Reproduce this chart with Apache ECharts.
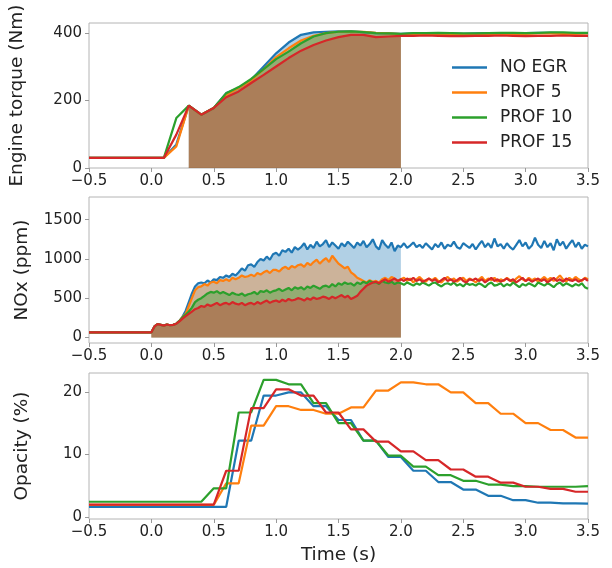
<!DOCTYPE html>
<html><head><meta charset="utf-8">
<script src="https://cdn.jsdelivr.net/npm/echarts@6/dist/echarts.min.js"></script>
<style>html,body{margin:0;padding:0;background:#fff}#c{width:612px;height:568px}</style>
</head><body><div id="c"></div>
<script>
const seriesNames = ['NO EGR', 'PROF 5', 'PROF 10', 'PROF 15'];
const seriesColors = ['#1f77b4', '#ff7f0e', '#2ca02c', '#d62728'];

// tick values
const xTickValues = [-0.5, 0.0, 0.5, 1.0, 1.5, 2.0, 2.5, 3.0, 3.5];
const torqueTickValues = [0, 200, 400];
const noxTickValues = [0, 500, 1000, 1500];
const opacityTickValues = [0, 10, 20];

// coarse time grid (torque and opacity), seconds
const coarseTime = [-0.5,-0.4,-0.3,-0.2,-0.1,0.0,0.1,0.2,0.3,0.4,0.5,0.6,0.7,0.8,0.9,1.0,1.1,1.2,1.3,1.4,1.5,1.6,1.7,1.8,1.9,2.0,2.1,2.2,2.3,2.4,2.5,2.6,2.7,2.8,2.9,3.0,3.1,3.2,3.3,3.4,3.5];

// Engine torque (Nm)
const torqueNoEgr = [30,30,30,30,30,30,30, 70,185,158,178,222,237,262,301,340,372,395,402,404,405,405,403,400,399,398, 399,400,400,399,398,399,400,400,399,400,401,401,400,399,400];
const torqueProf5 = [30,30,30,30,30,30,30, 64,185,158,178,217,237,260,293,329,355,378,392,400,404,404,404,401,399,397, 397,398,398,397,396,397,398,398,397,398,399,399,398,398,399];
const torqueProf10 = [30,30,30,30,30,30,30, 148,185,158,178,222,240,264,293,323,345,370,390,400,404,405,403,400,399,398, 400,400,401,400,399,399,400,401,401,400,401,402,402,401,401];
const torqueProf15 = [30,30,30,30,30,30,30, 99,185,158,178,210,227,252,276,301,326,348,365,378,388,395,395,388,390,392, 392,393,392,391,391,392,392,393,392,391,392,392,393,392,392];

// Opacity (%)
const opacityNoEgr = [1.65,1.65,1.65,1.65,1.65,1.65,1.65,1.65,1.65,1.65,1.65,1.65, 12.2,12.2,19.4,19.4,19.9,19.9,17.7,17.7,15.5,15.5,12.2,12.2,9.6,9.6,7.4,7.4,5.6,5.6,4.4,4.4,3.4,3.4,2.7,2.7,2.3,2.3,2.2,2.2,2.15];
const opacityProf5 = [1.95,1.95,1.95,1.95,1.95,1.95,1.95,1.95,1.95,1.95,1.95, 5.4,5.4,14.6,14.6,17.7,17.7,17.1,17.1,16.5,16.5,17.5,17.5,20.2,20.2,21.5,21.5,21.2,21.2,19.9,19.9,18.2,18.2,16.5,16.5,15.0,15.0,13.9,13.9,12.7,12.7];
const opacityProf10 = [2.45,2.45,2.45,2.45,2.45,2.45,2.45,2.45,2.45,2.45, 4.6,4.6,16.7,16.7,21.9,21.9,21.2,21.2,18.2,18.2,15.0,15.0,12.2,12.2,9.8,9.8,8.05,8.05,6.7,6.7,5.8,5.8,5.2,5.2,4.95,4.95,4.85,4.85,4.85,4.85,4.95];
const opacityProf15 = [2.0,2.0,2.0,2.0,2.0,2.0,2.0,2.0,2.0,2.0,2.0, 7.4,7.4,17.4,17.4,20.4,20.4,19.4,19.4,16.7,16.7,14.0,14.0,12.05,12.05,10.5,10.5,9.1,9.1,7.6,7.6,6.45,6.45,5.5,5.5,4.85,4.85,4.5,4.5,4.05,4.05];

// NOx (ppm): first sample at t = -0.5, then every 0.025 s from 0.0 to 3.5
const noxTime = [-0.5].concat(Array.from({length: 141}, (_, i) => +(i * 0.025).toFixed(3)));
const noxNoEgr = [65,
 65,140,170,160,150,165,155,160,
 175,210,265,340,450,560,650,690,
 700,690,725,700,740,730,770,760,
 790,770,810,790,830,880,850,920,
 930,900,960,1000,980,1030,990,1060,
 1080,1040,1110,1090,1130,1080,1150,1120,
 1150,1200,1120,1180,1140,1220,1160,1190,
 1240,1150,1210,1170,1130,1200,1160,1220,
 1180,1140,1210,1170,1230,1150,1190,1250,
 1160,1120,1240,1180,1140,1210,1100,1170,
 1150,1200,1140,1170,1210,1150,1180,1140,
 1200,1160,1120,1190,1150,1210,1130,1180,
 1160,1220,1150,1130,1200,1170,1140,1190,
 1120,1180,1230,1150,1200,1140,1260,1160,
 1190,1130,1200,1150,1120,1180,1240,1160,
 1210,1130,1170,1270,1180,1140,1230,1150,
 1200,1110,1250,1170,1220,1130,1190,1240,
 1150,1210,1130,1180,1160];
const noxProf5 = [65,
 65,140,170,160,150,165,155,160,
 175,210,260,300,400,500,600,640,
 650,680,660,700,710,690,730,720,
 740,720,760,740,760,790,770,780,
 800,780,820,800,830,850,820,860,
 860,840,880,900,870,910,890,920,
 930,900,950,920,960,990,940,980,
 1010,960,1040,990,940,910,880,900,
 830,800,760,740,720,700,730,710,
 720,700,740,760,730,770,750,720,
 740,760,720,750,700,740,770,730,
 710,750,730,760,720,700,740,770,
 730,750,710,740,760,720,750,730,
 700,740,770,720,750,730,760,710,
 740,720,760,730,700,750,780,740,
 720,760,730,750,710,740,770,730,
 760,720,750,790,740,710,760,730,
 770,740,720,760,740];
const noxProf10 = [65,
 65,140,170,160,150,165,155,160,
 175,210,255,290,330,380,450,480,
 500,530,560,580,570,590,560,580,
 560,540,570,550,540,560,530,550,
 560,580,550,590,580,600,570,590,
 600,620,590,610,630,600,640,620,
 640,610,650,630,660,640,620,650,
 660,640,680,650,690,670,700,680,
 690,660,700,680,710,690,720,700,
 705,680,720,700,690,710,680,700,
 690,670,700,680,660,690,670,700,
 680,660,690,700,670,650,680,690,
 670,700,660,680,650,690,670,680,
 660,690,670,640,680,700,660,670,
 690,650,680,660,700,670,640,680,
 660,690,670,650,700,680,660,690,
 670,640,680,700,660,690,670,650,
 680,660,690,640,620];
const noxProf15 = [65,
 65,140,170,160,150,165,155,160,
 175,205,240,270,300,330,360,375,
 400,390,420,400,420,440,410,430,
 440,420,450,430,420,440,410,430,
 440,420,450,430,450,470,440,460,
 470,450,480,460,490,470,480,500,
 490,470,500,480,510,490,500,520,
 510,490,520,500,520,540,510,530,
 490,510,530,580,620,660,680,700,
 710,690,720,740,710,730,750,720,
 740,720,750,730,760,720,740,710,
 730,750,720,740,700,730,760,720,
 740,710,730,760,720,700,740,730,
 750,720,740,700,730,760,720,740,
 710,730,750,720,740,700,730,760,
 720,740,710,730,750,720,740,700,
 730,760,720,740,710,750,730,720,
 740,710,730,750,720];

const torqueFillRange = [0.3, 2.0];
const noxFillRange = [0.0, 2.0];

function pairs(ts, vs) { return ts.map((t, i) => [t, vs[i]]); }
function within(data, r) { return data.filter(p => p[0] >= r[0] - 1e-9 && p[0] <= r[1] + 1e-9); }
function fmtX(v) { const s = (+v).toFixed(1); return s.replace('-', '\u2212'); }
function fmtY(v) { return String(Math.round(v)); }

const FONT = 'DejaVu Sans';
const TXT = '#222';
const GRIDL = 89, GRIDW = 499;
const grids = [
  { left: GRIDL, width: GRIDW, top: 23, height: 145 },
  { left: GRIDL, width: GRIDW, top: 197, height: 146 },
  { left: GRIDL, width: GRIDW, top: 373, height: 146 }
].map(g => Object.assign(g, { show: true, borderColor: '#b4b4b4', borderWidth: 1, backgroundColor: 'transparent' }));

function xAxis(k) {
  const a = {
    type: 'value', gridIndex: k, min: xTickValues[0], max: xTickValues[xTickValues.length - 1], interval: 0.5,
    axisLine: { show: false, onZero: false },
    axisTick: { show: true, inside: false, length: 4, lineStyle: { color: '#999' }, customValues: xTickValues },
    axisLabel: { fontSize: 15, color: TXT, margin: 6, fontFamily: FONT, formatter: fmtX, customValues: xTickValues },
    splitLine: { show: false }
  };
  if (k === 2) {
    a.name = 'Time (s)'; a.nameLocation = 'middle'; a.nameGap = 27;
    a.nameTextStyle = { fontSize: 18.5, color: TXT, fontFamily: FONT };
  }
  return a;
}
function yAxis(k, min, max, ticks, name, gap) {
  return {
    type: 'value', gridIndex: k, min: min, max: max,
    name: name, nameLocation: 'middle', nameGap: gap, nameRotate: 90,
    nameTextStyle: { fontSize: 18.5, color: TXT, fontFamily: FONT },
    axisLine: { show: false, onZero: false },
    axisTick: { show: true, inside: false, length: 4, lineStyle: { color: '#999' }, customValues: ticks },
    axisLabel: { fontSize: 15, color: TXT, margin: 7, fontFamily: FONT, formatter: fmtY, customValues: ticks },
    splitLine: { show: false }
  };
}

const panels = [
  { time: coarseTime, values: [torqueNoEgr, torqueProf5, torqueProf10, torqueProf15], fill: torqueFillRange },
  { time: noxTime, values: [noxNoEgr, noxProf5, noxProf10, noxProf15], fill: noxFillRange },
  { time: coarseTime, values: [opacityNoEgr, opacityProf5, opacityProf10, opacityProf15], fill: null }
];

const series = [];
panels.forEach((p, k) => {
  if (p.fill) {
    p.values.forEach((vals, j) => {
      series.push({
        type: 'line', name: '_fill' + k + j, xAxisIndex: k, yAxisIndex: k,
        data: within(pairs(p.time, vals), p.fill), symbol: 'none', silent: true,
        lineStyle: { width: 0, opacity: 0 }, z: 2,
        areaStyle: { color: seriesColors[j], opacity: 0.35, origin: 'auto' }
      });
    });
  }
  p.values.forEach((vals, j) => {
    series.push({
      type: 'line', name: seriesNames[j], xAxisIndex: k, yAxisIndex: k,
      data: pairs(p.time, vals), symbol: 'none', showSymbol: false, z: 3,
      lineStyle: { width: 2.2, color: seriesColors[j] }, itemStyle: { color: seriesColors[j] }
    });
  });
});

const chart = echarts.init(document.getElementById('c'), null, { renderer: 'canvas' });
chart.setOption({
  animation: false,
  backgroundColor: '#ffffff',
  textStyle: { fontFamily: FONT },
  grid: grids,
  xAxis: [xAxis(0), xAxis(1), xAxis(2)],
  yAxis: [
    yAxis(0, 0, 430, torqueTickValues, 'Engine torque (Nm)', 62),
    yAxis(1, -71, 1789, noxTickValues, 'NOx (ppm)', 57),
    yAxis(2, -0.3, 23, opacityTickValues, 'Opacity (%)', 57)
  ],
  legend: {
    data: seriesNames, orient: 'vertical', left: 452, top: 59, padding: 0,
    itemWidth: 35, itemHeight: 2.5, itemGap: 8, icon: 'rect',
    textStyle: { fontSize: 17, color: TXT, fontFamily: FONT, lineHeight: 17, padding: [0, 0, 0, 8] },
    selectedMode: false
  },
  series: series
});
</script></body></html>
